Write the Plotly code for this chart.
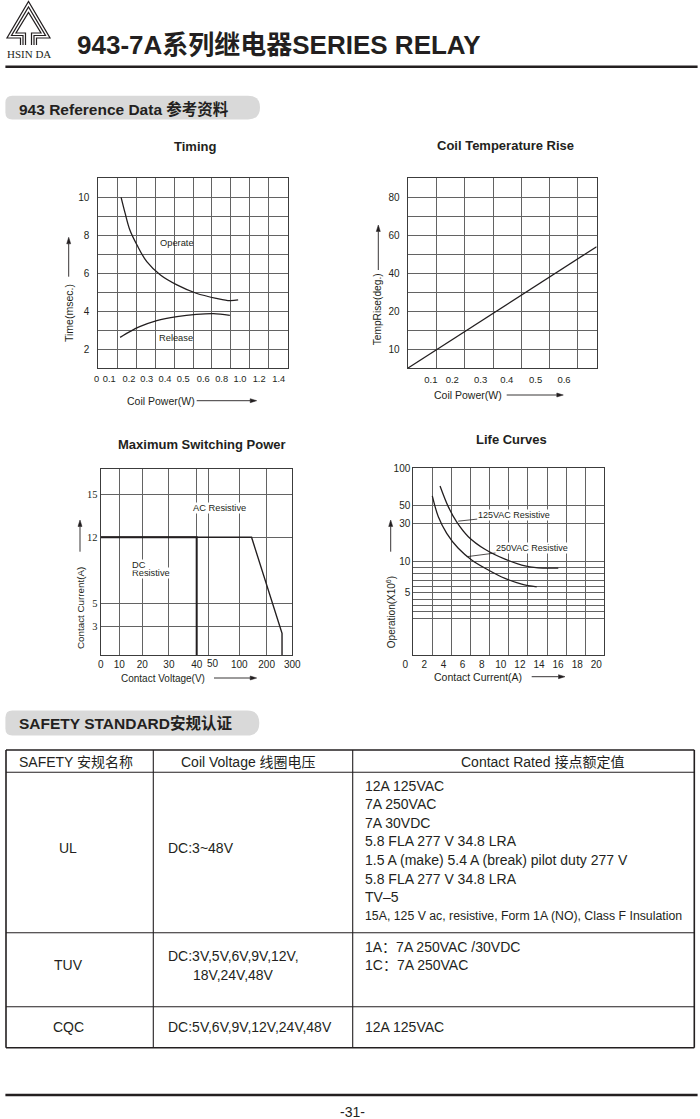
import numpy as np
import plotly.graph_objects as go

PAGE_W, PAGE_H = 700, 1119
INK = "#231f20"
GRID = "#636363"
FRAME = "#3c3c3c"
SANS = "Liberation Sans, Arial, Noto Sans CJK SC, sans-serif"
SERIF = "Liberation Serif, Times New Roman, serif"

# ---------------- chart data ----------------
# Timing: coil power (W) vs time (msec)
timing_operate_power = [0.16, 0.18, 0.205, 0.245, 0.30, 0.375, 0.465, 0.565, 0.745, 0.89, 0.98]
timing_operate_ms = [10.0, 9.18, 8.28, 7.49, 6.61, 5.91, 5.39, 4.95, 4.68, 4.56, 4.60]
timing_release_power = [0.155, 0.205, 0.26, 0.355, 0.465, 0.565, 0.71, 0.89]
timing_release_ms = [2.63, 2.93, 3.19, 3.51, 3.72, 3.84, 3.88, 3.79]
timing_x_ticks = [0, 0.1, 0.2, 0.3, 0.4, 0.5, 0.6, 0.8, 1.0, 1.2, 1.4]
timing_x_labels = ["0", "0.1", "0.2", "0.3", "0.4", "0.5", "0.6", "0.8", "1.0", "1.2", "1.4"]
timing_y_ticks = [2, 4, 6, 8, 10]

# Coil temperature rise: coil power (W) vs temperature rise (deg)
temp_power = [0.0, 0.715]
temp_rise = [0.0, 54.0]
temp_x_ticks = [0.1, 0.2, 0.3, 0.4, 0.5, 0.6]
temp_x_labels = ["0.1", "0.2", "0.3", "0.4", "0.5", "0.6"]
temp_y_ticks = [10, 20, 40, 60, 80]

# Maximum switching power: contact voltage (V) vs contact current (A)
msp_ac_voltage = [0, 145, 260, 260]
msp_ac_current = [12, 12, 2.25, 0]
msp_dc_voltage = [0, 40, 40]
msp_dc_current = [12, 12, 0]
msp_x_ticks = [0, 10, 20, 30, 40, 50, 100, 200, 300]
msp_y_ticks = [3, 5, 12, 15]

# Life curves: contact current (A) vs operations (x10^6)
life_125_current = [2.8, 3.66, 4.54, 5.76, 7.5, 9.6, 11.35, 13.09, 15.18]
life_125_ops = [76.3, 48.9, 31.6, 23.0, 16.4, 11.2, 9.44, 9.0, 8.96]
life_250_current = [1.99, 2.62, 3.5, 4.71, 6.11, 7.85, 9.6, 11.35, 12.92]
life_250_ops = [63.0, 37.5, 24.8, 16.9, 10.8, 8.65, 7.3, 6.4, 5.95]
life_x_ticks = [0, 2, 4, 6, 8, 10, 12, 14, 16, 18, 20]
life_y_ticks = [5, 10, 30, 50, 100]

# ---------------- page / table text ----------------
page_title = "943-7A系列继电器SERIES RELAY"
logo_text = "HSIN DA"
section_reference = "943 Reference Data 参考资料"
section_safety = "SAFETY STANDARD安规认证"
table_headers = ["SAFETY 安规名称", "Coil Voltage 线圈电压", "Contact Rated 接点额定值"]
safety_names = ["UL", "TUV", "CQC"]
coil_voltage_lines = [["DC:3~48V"], ["DC:3V,5V,6V,9V,12V,", "18V,24V,48V"], ["DC:5V,6V,9V,12V,24V,48V"]]
contact_rated_lines = [
    ["12A 125VAC", "7A 250VAC", "7A 30VDC", "5.8 FLA 277 V 34.8 LRA",
     "1.5 A (make) 5.4 A (break) pilot duty 277 V", "5.8 FLA 277 V 34.8 LRA", "TV–5",
     "15A, 125 V ac, resistive, Form 1A (NO), Class F Insulation"],
    ["1A：7A 250VAC /30VDC", "1C：7A 250VAC"],
    ["12A 125VAC"],
]
page_number = "-31-"

# ---------------- printed (non-uniform) axis scales: value -> position ----------------
TIMING_X_POS = [0, 0.58, 1.62, 2.56, 3.52, 4.49, 5.54, 6.51, 7.48, 8.49, 9.53]
TIMING_GRID_X = [1, 2, 3, 4, 5, 6, 7, 8, 9]
TIMING_LABEL0_SHIFT_PX = -1.8   # printed "0" sits a little left of the frame
TEMP_X_VAL = [0, 0.1, 0.2, 0.3, 0.4, 0.5, 0.6, 0.7, 0.75]
TEMP_X_POS = [0, 0.123, 0.236, 0.386, 0.524, 0.677, 0.827, 0.977, 1.052]
TEMP_GRID_X = [0.15, 0.30, 0.453, 0.601, 0.749, 0.901]
TEMP_Y_VAL = [0, 10, 20, 40, 60, 80, 100]
TEMP_Y_POS = [0, 0.1, 0.3, 0.5, 0.7, 0.9, 1.1]
TEMP_GRID_Y = [0.1, 0.2, 0.3, 0.4, 0.5, 0.6, 0.7, 0.8, 0.9]
MSP_X_POS = [0, 0.097, 0.217, 0.356, 0.501, 0.561, 0.723, 0.866, 1.0]
MSP_LABEL50_SHIFT_PX = 4.5      # printed "50" sits a little right of its grid line
MSP_Y_VAL = [0, 3, 5, 12, 15]
MSP_Y_POS = [0, 0.156, 0.278, 0.634, 0.865]
LIFE_Y_VAL = [0, 1, 2, 3, 4, 5, 6, 7, 8, 9, 10, 30, 50, 100]
LIFE_Y_POS = [0, 0.198, 0.232, 0.266, 0.299, 0.333, 0.366, 0.400, 0.434, 0.467, 0.501, 0.705, 0.800, 1.0]


def _map(v, xp, fp):
    return [float(a) for a in np.atleast_1d(np.interp(v, xp, fp))]


def tx(v):
    return _map(v, timing_x_ticks, TIMING_X_POS)


def tempx(v):
    return _map(v, TEMP_X_VAL, TEMP_X_POS)


def tempy(v):
    return _map(v, TEMP_Y_VAL, TEMP_Y_POS)


def mspx(v):
    return _map(v, msp_x_ticks, MSP_X_POS)


def mspy(v):
    return _map(v, MSP_Y_VAL, MSP_Y_POS)


def lifey(v):
    return _map(v, LIFE_Y_VAL, LIFE_Y_POS)


def X(p):
    return p / PAGE_W


def Y(p):
    return 1 - p / PAGE_H


def xdom(a, b):
    return [X(a), X(b)]


def ydom(top, bottom):
    return [Y(bottom), Y(top)]


def grid_ticks(grid_pos, label_pos, labels):
    vals = sorted(set([round(g, 4) for g in grid_pos] + [round(p, 4) for p in label_pos]))
    lab = {round(p, 4): t for p, t in zip(label_pos, labels)}
    return vals, [lab.get(v, " ") for v in vals]


def base_axis(**kw):
    d = dict(showline=True, mirror=True, linecolor=FRAME, linewidth=1, zeroline=False,
             ticks="", fixedrange=True, showgrid=True, gridcolor=GRID, gridwidth=1,
             tickmode="array", tickangle=0, tickfont=dict(family=SANS, size=10, color=INK))
    d.update(kw)
    return d


fig = go.Figure()
line_style = dict(color=INK, width=1.3)

# Timing
fig.add_trace(go.Scatter(x=tx(timing_operate_power), y=timing_operate_ms, mode="lines",
                         line=dict(line_style, shape="spline"), xaxis="x", yaxis="y"))
fig.add_trace(go.Scatter(x=tx(timing_release_power), y=timing_release_ms, mode="lines",
                         line=dict(line_style, shape="spline"), xaxis="x", yaxis="y"))
# Temperature rise
fig.add_trace(go.Scatter(x=tempx(temp_power), y=tempy(temp_rise), mode="lines",
                         line=line_style, xaxis="x2", yaxis="y2"))
# Max switching power
fig.add_trace(go.Scatter(x=mspx(msp_ac_voltage), y=mspy(msp_ac_current), mode="lines",
                         line=dict(color=INK, width=1.4), xaxis="x3", yaxis="y3"))
fig.add_trace(go.Scatter(x=mspx(msp_dc_voltage), y=mspy(msp_dc_current), mode="lines",
                         line=dict(color=INK, width=2.0), xaxis="x3", yaxis="y3"))
# Life curves
fig.add_trace(go.Scatter(x=life_125_current, y=lifey(life_125_ops), mode="lines",
                         line=dict(line_style, shape="spline"), xaxis="x4", yaxis="y4"))
fig.add_trace(go.Scatter(x=life_250_current, y=lifey(life_250_ops), mode="lines",
                         line=dict(line_style, shape="spline"), xaxis="x4", yaxis="y4"))
fig.update_traces(hoverinfo="skip", showlegend=False)

# axes
t_xt = list(timing_x_labels)
t_xt[0] = " "        # "0" drawn below with its small printed offset
t_yv, t_yt = grid_ticks(list(range(2, 11)), timing_y_ticks, [str(v) for v in timing_y_ticks])
te_yv, te_yt = grid_ticks(TEMP_GRID_Y, tempy(temp_y_ticks), [str(v) for v in temp_y_ticks])
msp_xt = [str(v) for v in msp_x_ticks]
msp_xt[msp_x_ticks.index(50)] = " "     # "50" drawn below with its printed offset
l_yv, l_yt = grid_ticks(LIFE_Y_POS[1:], lifey(life_y_ticks), [str(v) for v in life_y_ticks])

fig.update_layout(
    xaxis=base_axis(domain=xdom(98.3, 287.7), anchor="y", range=[0, 10],
                    tickvals=TIMING_X_POS, ticktext=t_xt, showgrid=False,
                    minor=dict(tickmode="array", tickvals=TIMING_GRID_X, showgrid=True,
                               gridcolor=GRID, gridwidth=1, ticks=""),
                    tickfont=dict(family=SANS, size=9.3, color=INK), ticklabelstandoff=2),
    yaxis=base_axis(domain=ydom(178.3, 368.3), anchor="x", range=[1, 11],
                    tickvals=t_yv, ticktext=t_yt, ticklabelstandoff=6),
    xaxis2=base_axis(domain=xdom(407.7, 596.7), anchor="y2", range=[0, 1],
                     tickvals=tempx(temp_x_ticks), ticktext=temp_x_labels, showgrid=False,
                     minor=dict(tickmode="array", tickvals=TEMP_GRID_X, showgrid=True,
                                gridcolor=GRID, gridwidth=1, ticks=""),
                     tickfont=dict(family=SANS, size=9.5, color=INK), ticklabelstandoff=2),
    yaxis2=base_axis(domain=ydom(178.3, 368.3), anchor="x2", range=[0, 1],
                     tickvals=te_yv, ticktext=te_yt, ticklabelstandoff=5),
    xaxis3=base_axis(domain=xdom(100.7, 292.3), anchor="y3", range=[0, 1],
                     tickvals=MSP_X_POS, ticktext=msp_xt),
    yaxis3=base_axis(domain=ydom(469.3, 655), anchor="x3", range=[0, 1],
                     tickvals=mspy(msp_y_ticks), ticktext=[str(v) for v in msp_y_ticks],
                     tickfont=dict(family=SERIF, size=10.5, color=INK)),
    xaxis4=base_axis(domain=xdom(413.3, 604.3), anchor="y4", range=[0, 20],
                     tickvals=life_x_ticks, ticktext=[str(v) for v in life_x_ticks],
                     ticklabelshift=-8),
    yaxis4=base_axis(domain=ydom(468.3, 655), anchor="x4", range=[0, 1],
                     tickvals=l_yv, ticktext=l_yt),
)

# ---------------- annotations ----------------
ann = []
shapes = []


def txt(x, y, text, size=10, xanchor="center", yanchor="middle", angle=0, family=SANS, bg=None):
    d = dict(x=X(x), y=Y(y), xref="paper", yref="paper", text=text, showarrow=False,
             xanchor=xanchor, yanchor=yanchor, textangle=angle,
             font=dict(family=family, size=size, color=INK))
    if bg:
        d["bgcolor"] = bg
        d["borderpad"] = 0
    ann.append(d)


def seg(x0, y0, x1, y1, w=1.0, color=INK):
    shapes.append(dict(type="line", xref="paper", yref="paper", x0=X(x0), y0=Y(y0),
                       x1=X(x1), y1=Y(y1), line=dict(color=color, width=w), layer="above"))


def arrow(hx, hy, tx_, ty_, L=6.5, hw=2.0):
    # thin shaft + narrow filled head at (hx, hy)
    dx, dy = hx - tx_, hy - ty_
    n = (dx * dx + dy * dy) ** 0.5
    ux, uy = dx / n, dy / n
    bx, by = hx - ux * L, hy - uy * L
    seg(tx_, ty_, bx, by, 0.9)
    p1 = (bx - uy * hw, by + ux * hw)
    p2 = (bx + uy * hw, by - ux * hw)
    path = f"M {X(hx)},{Y(hy)} L {X(p1[0])},{Y(p1[1])} L {X(p2[0])},{Y(p2[1])} Z"
    shapes.append(dict(type="path", xref="paper", yref="paper", path=path, fillcolor=INK,
                       line=dict(color=INK, width=0.5), layer="above"))


# header
txt(75, 45, "<b>" + page_title + "</b>", size=26, xanchor="left")
txt(28.5, 53.7, logo_text, size=11, family=SERIF)
txt(17, 109, "<b>" + section_reference + "</b>", size=15.5, xanchor="left")
txt(17, 723, "<b>" + section_safety + "</b>", size=15.5, xanchor="left")

# chart titles
txt(194.8, 146.7, "<b>Timing</b>", size=13)
txt(505.5, 145, "<b>Coil Temperature Rise</b>", size=13)
txt(202.2, 444, "<b>Maximum Switching Power</b>", size=13)
txt(511.3, 439.3, "<b>Life Curves</b>", size=13)

# axis titles + arrows
txt(68.3, 312.7, "Time(msec.)", size=10.5, angle=-90)
arrow(68.7, 237.3, 68.7, 276.7)
txt(161, 400.7, "Coil Power(W)", size=10.5)
arrow(256.7, 400.7, 196.7, 400.7)

txt(378.3, 309, "TempRise(deg.)", size=10.2, angle=-90)
arrow(378.3, 225, 378.3, 270)
txt(467.8, 395, "Coil Power(W)", size=10.5)
arrow(563.3, 395, 506.7, 395)

txt(80, 608, "Contact Current(A)", size=9.8, angle=-90)
arrow(80, 520, 80, 551.7)
txt(163.3, 678, "Contact Voltage(V)", size=10)
arrow(256.7, 678, 214, 678)

txt(390.7, 612.5, "Operation(X10<sup>6</sup>)", size=10, angle=-90)
arrow(390.7, 520, 390.7, 551.7)
txt(478, 676.7, "Contact Current(A)", size=10.5)
arrow(565, 676.7, 531.7, 676.7)

# offset tick labels ("0" of the timing power axis, "50" of the voltage axis)
ann.append(dict(x=tx(0)[0], y=Y(378.6), xref="x", yref="paper", showarrow=False,
                text=timing_x_labels[0], xanchor="center", yanchor="middle",
                xshift=TIMING_LABEL0_SHIFT_PX, font=dict(family=SANS, size=9.3, color=INK)))
ann.append(dict(x=mspx(50)[0], y=Y(663.8), xref="x3", yref="paper", showarrow=False,
                text="50", xanchor="center", yanchor="middle",
                xshift=MSP_LABEL50_SHIFT_PX, font=dict(family=SANS, size=10, color=INK)))

# in-chart labels
txt(176.7, 243.3, "Operate", size=9.3)
txt(176, 338.3, "Release", size=9.3)
txt(219.3, 507.7, "AC Resistive", size=9.3, bg="white")
txt(131, 573.3, "Resistive", size=9.3, xanchor="left", bg="white")
txt(131, 565, "DC", size=9.3, xanchor="left", bg="white")

ann.append(dict(x=4.7, y=lifey(32.5)[0], xref="x4", yref="y4", text="125VAC Resistive",
                showarrow=True, arrowhead=0, ax=55.5, ay=-6, arrowwidth=0.8, arrowcolor=INK,
                bgcolor="white", borderpad=0, font=dict(family=SANS, size=9, color=INK)))
ann.append(dict(x=5.59, y=lifey(12.5)[0], xref="x4", yref="y4", text="250VAC Resistive",
                showarrow=True, arrowhead=0, ax=65.3, ay=-8.4, arrowwidth=0.8, arrowcolor=INK,
                bgcolor="white", borderpad=0, font=dict(family=SANS, size=9, color=INK)))

# table text
header_cx = [76, 248.3, 542]
for cx, h in zip(header_cx, table_headers):
    txt(cx, 761.5, h, size=14)

name_y = [848, 965, 1027]
for ny, nm in zip(name_y, safety_names):
    txt(68, ny, nm, size=14)

coil_pos = [[(166, 848)], [(166, 956), (190.7, 975)], [(166, 1027)]]
for lines, pos in zip(coil_voltage_lines, coil_pos):
    for t, (px_, py_) in zip(lines, pos):
        txt(px_, py_, t, size=14, xanchor="left")

contact_start = [785.5, 946.5, 1027]
contact_step = [18.6, 18.0, 18.6]
for lines, y0, st in zip(contact_rated_lines, contact_start, contact_step):
    for i, t in enumerate(lines):
        size = 12.3 if len(t) > 50 else 14
        txt(363, y0 + i * st, t, size=size, xanchor="left")

txt(352, 1112, page_number, size=14)


# ---------------- shapes ----------------
def pill(x0, y0, x1, y1, rl, rr, color="#d9d9d9"):
    ym = (y0 + y1) / 2
    p = (f"M {X(x0 + rl)},{Y(y0)} L {X(x1 - rr)},{Y(y0)} Q {X(x1)},{Y(y0)} {X(x1)},{Y(ym)} "
         f"Q {X(x1)},{Y(y1)} {X(x1 - rr)},{Y(y1)} L {X(x0 + rl)},{Y(y1)} "
         f"Q {X(x0)},{Y(y1)} {X(x0)},{Y(y1 - rl)} L {X(x0)},{Y(y0 + rl)} "
         f"Q {X(x0)},{Y(y0)} {X(x0 + rl)},{Y(y0)} Z")
    shapes.append(dict(type="path", xref="paper", yref="paper", path=p, fillcolor=color,
                       line=dict(width=0), layer="below"))


# logo (nested tree/arrow outlines)
LOGO_CX = 28.5
for apex, base, left, right, hw in [(1.5, 38.0, 7.0, 50.0, 8.0), (7.0, 35.5, 11.5, 45.5, 5.5),
                                    (12.5, 33.0, 16.0, 41.0, 3.0)]:
    pts = [(LOGO_CX - hw, 45), (LOGO_CX - hw, base), (left, base), (LOGO_CX, apex),
           (right, base), (LOGO_CX + hw, base), (LOGO_CX + hw, 45)]
    path = "M " + " L ".join(f"{X(a)},{Y(b)}" for a, b in pts)
    shapes.append(dict(type="path", xref="paper", yref="paper", path=path,
                       line=dict(color=INK, width=1.2), layer="above"))

seg(5.4, 66.7, 697.6, 66.7, 2.5)
pill(5.4, 95.7, 260, 119.5, 7, 12)
pill(5.4, 710.5, 259.3, 735.5, 7, 12)

# table grid
TL, TR, TT, TB = 6, 694.3, 750, 1047.7
seg(TL, TT, TR, TT, 1.6)
seg(TL, TB, TR, TB, 1.6)
seg(TL, TT, TL, TB, 1.6)
seg(TR, TT, TR, TB, 1.6)
for yy in [772.3, 932.7, 1006.7]:
    seg(TL, yy, TR, yy, 1.1)
for xx in [153.3, 352.7]:
    seg(xx, TT, xx, TB, 1.1)

seg(5.4, 1095, 697.6, 1095, 2.5)

fig.update_layout(
    width=PAGE_W, height=PAGE_H,
    margin=dict(l=0, r=0, t=0, b=0, pad=0, autoexpand=False),
    paper_bgcolor="white", plot_bgcolor="white", showlegend=False,
    annotations=ann, shapes=shapes,
    font=dict(family=SANS, color=INK),
)

fig.write_html("out.html", config={"displayModeBar": False, "staticPlot": True},
               post_script="document.body.style.margin='0px';document.body.style.padding='0px';"
                           "document.body.style.overflow='hidden';")
